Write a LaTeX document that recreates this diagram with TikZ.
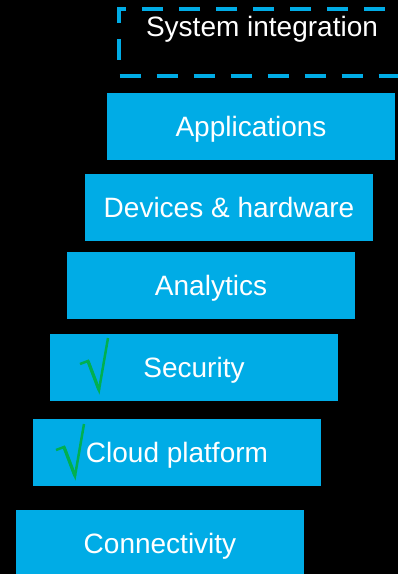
\documentclass[tikz,border=0pt]{standalone}
\usepackage{fontspec}
\setmainfont{Liberation Sans}
\definecolor{boxblue}{RGB}{0,172,230}
\definecolor{checkgreen}{RGB}{0,176,80}
\tikzset{
  x=1pt, y=-1pt,
  layerbox/.style={rectangle, fill=boxblue, minimum width=288pt, minimum height=67pt, inner sep=0pt,
    text height=20pt, text depth=0pt,
    text=white, font=\fontsize{28}{30}\selectfont},
  plaintext/.style={inner sep=0pt, text=white, font=\fontsize{28}{30}\selectfont},
  dashline/.style={draw=boxblue, line width=4pt, dash pattern=on 21pt off 16pt},
  tick/.style={draw=checkgreen, line width=2.5pt, line join=miter}
}
\begin{document}
\begin{tikzpicture}
\fill[black] (0,0) rectangle (398,574);
\useasboundingbox (0,0) rectangle (398,574);
\clip (0,0) rectangle (398,574);
% dashed system integration frame
\draw[dashline] (422,9) -- (119,9) -- (119,75.5) -- (430,75.5);
\node[plaintext, anchor=base] (sys) at (262,36.5) {System integration};
% layers
\node[layerbox] (app) at (251,126.5) {Applications};
\node[layerbox] (dev) at (229,207.5) {Devices \& hardware};
\node[layerbox] (ana) at (211,285.5) {Analytics};
\node[layerbox] (sec) at (194,367.5) {Security};
\node[layerbox] (cld) at (177,452.5) {Cloud platform};
\node[layerbox] (con) at (160,543.5) {Connectivity};
% check marks
\draw[tick] (80,364) -- (88,361) -- (99,390) -- (108,338);
\draw[draw=checkgreen, line width=3.2pt] (88,361) -- (99,390);
\draw[tick] (56,450) -- (64,447) -- (75,476) -- (84,424);
\draw[draw=checkgreen, line width=3.2pt] (64,447) -- (75,476);
\end{tikzpicture}
\end{document}
